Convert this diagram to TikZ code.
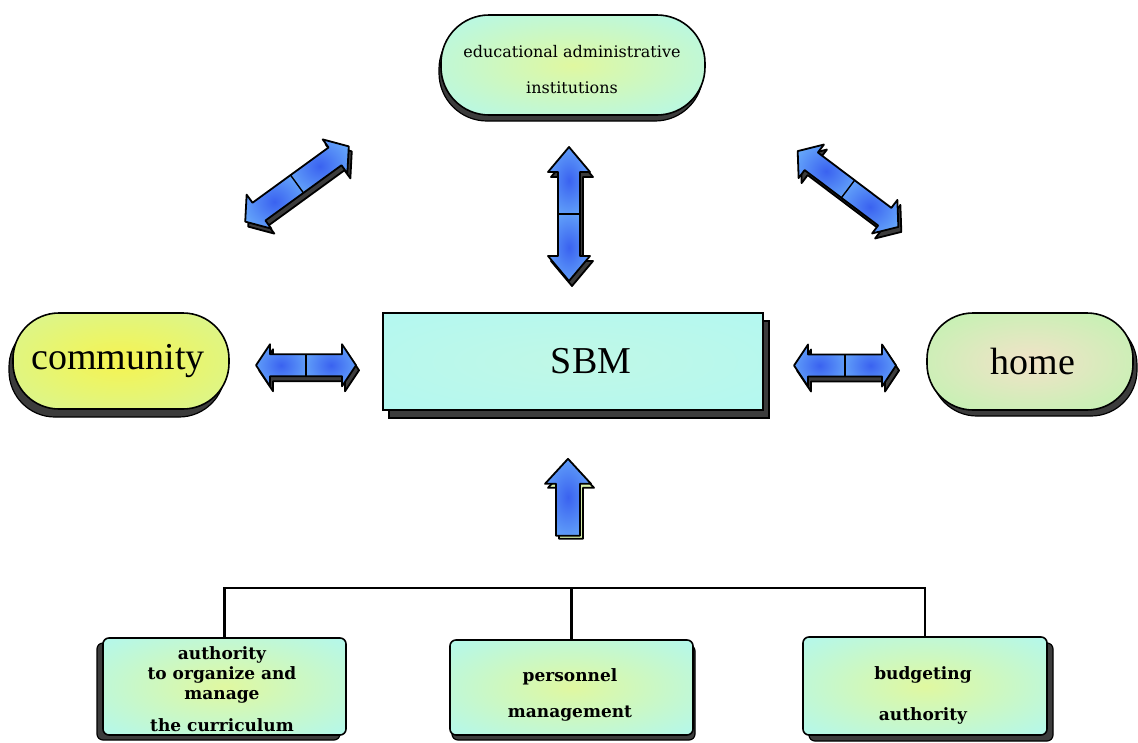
\documentclass[tikz,border=0pt]{standalone}
\usepackage{fontspec}
\setmainfont{Liberation Serif}
\newfontfamily\smallf{DejaVu Serif}
\usetikzlibrary{calc,shadows}
\definecolor{cyanout}{HTML}{B0F8F2}
\definecolor{yelgrn}{HTML}{E0F8A0}
\definecolor{commin}{HTML}{F6F450}
\definecolor{commout}{HTML}{D2F6A0}
\definecolor{homein}{HTML}{F2E2C8}
\definecolor{homeout}{HTML}{BEF4B0}
\definecolor{sbmin}{HTML}{C0F8E6}
\definecolor{sbmout}{HTML}{B2F8F2}
\definecolor{bluein}{HTML}{3A62F0}
\definecolor{blueout}{HTML}{7CCAFF}
\definecolor{shadowgray}{HTML}{3C3C3C}
\definecolor{upshadow}{HTML}{D8F0A8}
\pgfdeclareradialshading{padrad}{\pgfpoint{0bp}{0bp}}{color(0bp)=(yelgrn); color(38bp)=(cyanout); color(100bp)=(cyanout)}
\pgfdeclareradialshading{commrad}{\pgfpoint{0bp}{0bp}}{color(0bp)=(commin); color(42bp)=(commout); color(100bp)=(commout)}
\pgfdeclareradialshading{homerad}{\pgfpoint{0bp}{0bp}}{color(0bp)=(homein); color(36bp)=(homeout); color(100bp)=(homeout)}
\pgfdeclareradialshading{sbmrad}{\pgfpoint{0bp}{0bp}}{color(0bp)=(sbmin); color(40bp)=(sbmout); color(100bp)=(sbmout)}
\pgfdeclareradialshading{bluerad}{\pgfpoint{0bp}{0bp}}{color(0bp)=(bluein); color(45bp)=(blueout); color(100bp)=(blueout)}
\tikzset{
  box/.style={draw=black, line width=1.6pt, inner sep=0pt, shade},
  sh/.style 2 args={drop shadow={shadow xshift=#1pt, shadow yshift=#2pt, fill=shadowgray, draw=black, line width=1.2pt, opacity=1}},
  bigtxt/.style={font=\fontsize{38}{40}\selectfont},
  smalltxt/.style={font=\smallf\fontsize{16}{18}\selectfont, align=center},
  boldtxt/.style={font=\smallf\bfseries\fontsize{17}{20}\selectfont, align=center},
  tree/.style={draw=black, line width=2.4pt},
  arrline/.style={draw=black, line width=1.8pt, line join=round},
}
\newcommand\dblarrowat[4]{%
  \begin{scope}[shift={#1}, xshift=3pt, yshift=-5pt, rotate=#2]
    \filldraw[fill=shadowgray, arrline] (-#3,0) -- (-#3+#4,-21) -- (-#3+#4,-11) -- (#3-#4,-11) -- (#3-#4,-21) -- (#3,0) -- (#3-#4,21) -- (#3-#4,11) -- (-#3+#4,11) -- (-#3+#4,21) -- cycle;
  \end{scope}
  \begin{scope}[shift={#1}, rotate=#2]
    \shade[shading=bluerad] (-#3,0) -- (-#3+#4,-21) -- (-#3+#4,-11) -- (0,-11) -- (0,11) -- (-#3+#4,11) -- (-#3+#4,21) -- cycle;
    \shade[shading=bluerad] (#3,0) -- (#3-#4,-21) -- (#3-#4,-11) -- (0,-11) -- (0,11) -- (#3-#4,11) -- (#3-#4,21) -- cycle;
    \draw[arrline] (-#3,0) -- (-#3+#4,-21) -- (-#3+#4,-11) -- (#3-#4,-11) -- (#3-#4,-21) -- (#3,0) -- (#3-#4,21) -- (#3-#4,11) -- (-#3+#4,11) -- (-#3+#4,21) -- cycle;
    \draw[line width=1.4pt] (0,-11) -- (0,11);
  \end{scope}}
\begin{document}
\begin{tikzpicture}[x=1pt,y=-1pt]
\useasboundingbox[fill=white] (0,0) rectangle (1138,742);
% main shapes
\node[box, sh={-2}{-6}, shading=padrad, rounded corners=48pt, minimum width=264pt, minimum height=100pt] (top) at (573,65) {};
\node[box, sh={-4}{-8}, shading=commrad, rounded corners=46pt, minimum width=216pt, minimum height=96pt] (comm) at (121,361) {};
\node[box, sh={4}{-6}, shading=homerad, rounded corners=46pt, minimum width=206pt, minimum height=97pt] (home) at (1030,361.5) {};
\node[box, sh={6}{-8}, shading=sbmrad, minimum width=380pt, minimum height=97pt] (sbm) at (573,361.5) {};
\node[box, sh={-6}{-5}, shading=padrad, rounded corners=6pt, minimum width=243pt, minimum height=97pt] (bl) at (224.5,686.5) {};
\node[box, sh={2}{-5}, shading=padrad, rounded corners=6pt, minimum width=243pt, minimum height=95pt] (bm) at (571.5,687.5) {};
\node[box, sh={6}{-6}, shading=padrad, rounded corners=6pt, minimum width=244pt, minimum height=98pt] (br) at (925,686) {};
% texts
\node[smalltxt] (toptxt) at (572,70) {educational administrative\\[18pt]institutions};
\node[bigtxt] (commtxt) at (118,361) {community};
\node[bigtxt] (sbmtxt) at (591,361) {SBM};
\node[bigtxt] (hometxt) at (1033,361) {home};
\node[boldtxt] (bltxt) at (222,689) {authority\\to organize and\\manage\\[12pt]the curriculum};
\node[boldtxt] (bmtxt) at (570,695) {personnel\\[16pt]management};
\node[boldtxt] (brtxt) at (923,695.5) {budgeting\\[21pt]authority};
% tree
\coordinate (bar) at (572,588);
\draw[tree] (bl.north) -- (bl.north |- bar) -- (br.north |- bar) -- (br.north);
\draw[tree] (bm.north |- bar) -- (bm.north);
% block arrows
\dblarrowat{($(comm.east)!0.5!(sbm.west)+(0,4)$)}{0}{50}{14}
\dblarrowat{($(sbm.east)!0.5!(home.west)+(0,4)$)}{0}{51}{14}
\dblarrowat{($(top.south)!0.5!(sbm.north)+(-4,0)$)}{90}{67}{25}
\dblarrowat{(297,184)}{36}{64}{17}
\dblarrowat{(848,189)}{-37}{63}{17}
% single up arrow
\coordinate (upc) at ($(sbm.south)+(-5,0)$);
\filldraw[fill=upshadow, arrline] ($(upc)+(3,52)$) -- ($(upc)+(26,77)$) -- ($(upc)+(15,77)$) -- ($(upc)+(15,128)$) -- ($(upc)+(-9,128)$) -- ($(upc)+(-9,77)$) -- ($(upc)+(-20,77)$) -- cycle;
\shade[shading=bluerad] ($(upc)+(0,48)$) -- ($(upc)+(23,73)$) -- ($(upc)+(12,73)$) -- ($(upc)+(12,125)$) -- ($(upc)+(-12,125)$) -- ($(upc)+(-12,73)$) -- ($(upc)+(-23,73)$) -- cycle;
\draw[arrline] ($(upc)+(0,48)$) -- ($(upc)+(23,73)$) -- ($(upc)+(12,73)$) -- ($(upc)+(12,125)$) -- ($(upc)+(-12,125)$) -- ($(upc)+(-12,73)$) -- ($(upc)+(-23,73)$) -- cycle;
\end{tikzpicture}
\end{document}
